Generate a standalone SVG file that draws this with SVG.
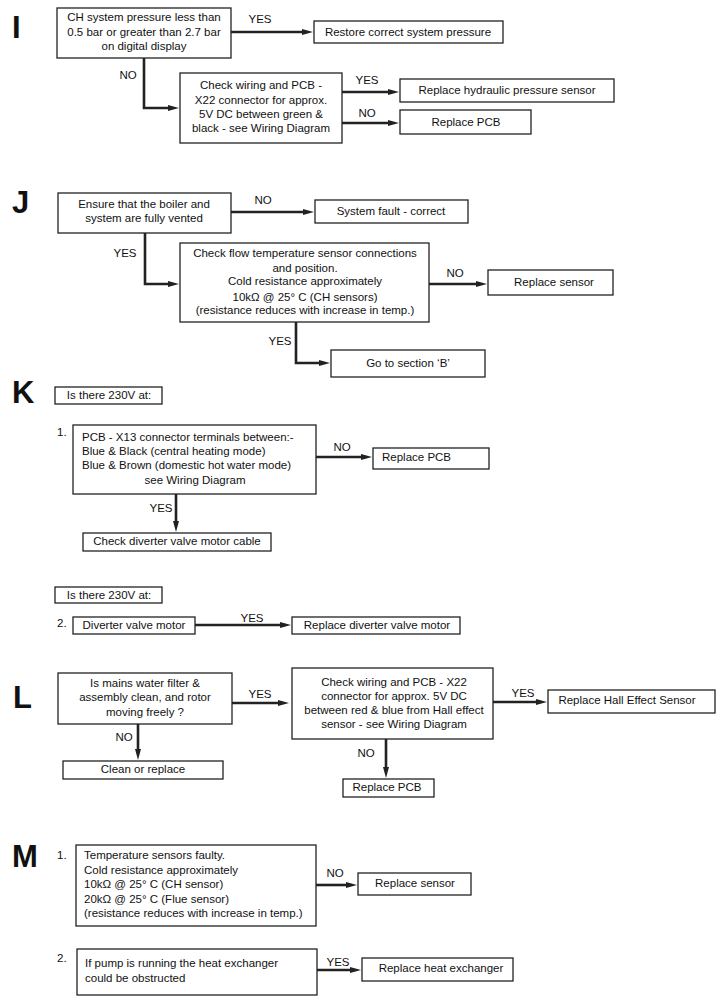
<svg xmlns="http://www.w3.org/2000/svg" width="722" height="1004" viewBox="0 0 722 1004">
<style>
text{font-family:"Liberation Sans",Arial,Helvetica,sans-serif;font-size:11.5px;fill:#111}
.c{text-anchor:middle}
.big{font-size:31px;font-weight:bold;fill:#111}
.box{fill:#fff;stroke:#222;stroke-width:1.3}
.con{fill:none;stroke:#222;stroke-width:2.6;marker-end:url(#ah)}
</style>
<defs>
<marker id="ah" markerUnits="userSpaceOnUse" markerWidth="11" markerHeight="6" viewBox="0 0 11 6" refX="1" refY="3" orient="auto">
<path d="M0,0 L11,3 L0,6 z" fill="#222"/>
</marker>
</defs>
<rect width="722" height="1004" fill="#fff"/>

<g id="letters">
<text class="big" x="12" y="38">I</text>
<text class="big" x="12" y="213">J</text>
<text class="big" x="12" y="403">K</text>
<text class="big" x="13" y="708">L</text>
<text class="big" x="12" y="867">M</text>
<text x="57" y="436">1.</text>
<text x="57" y="627">2.</text>
<text x="57" y="859">1.</text>
<text x="57" y="962">2.</text>
</g>

<g id="connectors">
<path class="con" d="M231,32 H303"/>
<path class="con" d="M144,58 V108 H169"/>
<path class="con" d="M342,92 H389"/>
<path class="con" d="M342,123 H389"/>
<path class="con" d="M231,212 H304"/>
<path class="con" d="M145,233 V284 H169"/>
<path class="con" d="M429,284 H477"/>
<path class="con" d="M296,322 V363 H320"/>
<path class="con" d="M316,457 H362"/>
<path class="con" d="M176,494 V522"/>
<path class="con" d="M195,625 H281"/>
<path class="con" d="M232,703 H279"/>
<path class="con" d="M138,724 V750"/>
<path class="con" d="M493,702 H537"/>
<path class="con" d="M386,739 V768"/>
<path class="con" d="M316,885 H347"/>
<path class="con" d="M317,970 H351"/>
<g id="labels">
<text class="c" x="260" y="23">YES</text>
<text class="c" x="128" y="79">NO</text>
<text class="c" x="367" y="84">YES</text>
<text class="c" x="367" y="117">NO</text>
<text class="c" x="263" y="204">NO</text>
<text class="c" x="125" y="257">YES</text>
<text class="c" x="455" y="277">NO</text>
<text class="c" x="280" y="345">YES</text>
<text class="c" x="342" y="451">NO</text>
<text class="c" x="161" y="512">YES</text>
<text class="c" x="252" y="622">YES</text>
<text class="c" x="260" y="698">YES</text>
<text class="c" x="124" y="741">NO</text>
<text class="c" x="523" y="697">YES</text>
<text class="c" x="366" y="757">NO</text>
<text class="c" x="335" y="877">NO</text>
<text class="c" x="338" y="966">YES</text>
</g>
</g>

<g id="i1"><rect class="box" x="57" y="8" width="174" height="50"/>
<text class="c" x="144" y="21">CH system pressure less than</text>
<text class="c" x="144" y="36">0.5 bar or greater than 2.7 bar</text>
<text class="c" x="144" y="50">on digital display</text></g>
<g id="i2"><rect class="box" x="314" y="21" width="189" height="22"/>
<text class="c" x="408" y="36">Restore correct system pressure</text></g>
<g id="i3"><rect class="box" x="180" y="73" width="162" height="70"/>
<text class="c" x="261" y="89">Check wiring and PCB -</text>
<text class="c" x="261" y="104">X22 connector for approx.</text>
<text class="c" x="261" y="118">5V DC between green &amp;</text>
<text class="c" x="261" y="132">black - see Wiring Diagram</text></g>
<g id="i4"><rect class="box" x="400" y="79" width="214" height="23"/>
<text class="c" x="507" y="94">Replace hydraulic pressure sensor</text></g>
<g id="i5"><rect class="box" x="400" y="110" width="131" height="24"/>
<text class="c" x="466" y="126">Replace PCB</text></g>

<g id="j1"><rect class="box" x="58" y="193" width="173" height="40"/>
<text class="c" x="144" y="208">Ensure that the boiler and</text>
<text class="c" x="144" y="222">system are fully vented</text></g>
<g id="j2"><rect class="box" x="315" y="200" width="153" height="23"/>
<text class="c" x="391" y="215">System fault - correct</text></g>
<g id="j3"><rect class="box" x="180" y="243" width="249" height="79"/>
<text class="c" x="305" y="257">Check flow temperature sensor connections</text>
<text class="c" x="305" y="272">and position.</text>
<text class="c" x="305" y="285">Cold resistance approximately</text>
<text class="c" x="305" y="301">10kΩ @ 25° C (CH sensors)</text>
<text class="c" x="305" y="314">(resistance reduces with increase in temp.)</text></g>
<g id="j4"><rect class="box" x="488" y="270" width="125" height="25"/>
<text class="c" x="554" y="286">Replace sensor</text></g>
<g id="j5"><rect class="box" x="331" y="350" width="154" height="27"/>
<text class="c" x="408" y="367">Go to section ‘B’</text></g>

<g id="k0"><rect class="box" x="55" y="387" width="107" height="17"/>
<text class="c" x="109" y="399">Is there 230V at:</text></g>
<g id="k1"><rect class="box" x="73" y="425" width="243" height="69"/>
<text x="82" y="441">PCB - X13 connector terminals between:-</text>
<text x="82" y="455">Blue &amp; Black (central heating mode)</text>
<text x="82" y="469">Blue &amp; Brown (domestic hot water mode)</text>
<text class="c" x="195" y="484">see Wiring Diagram</text></g>
<g id="k2"><rect class="box" x="373" y="448" width="116" height="21"/>
<text x="382" y="461">Replace PCB</text></g>
<g id="k3"><rect class="box" x="83" y="533" width="188" height="18"/>
<text class="c" x="177" y="545">Check diverter valve motor cable</text></g>
<g id="k4"><rect class="box" x="55" y="587" width="107" height="16"/>
<text class="c" x="109" y="599">Is there 230V at:</text></g>
<g id="k5"><rect class="box" x="73" y="617" width="122" height="17"/>
<text class="c" x="134" y="629">Diverter valve motor</text></g>
<g id="k6"><rect class="box" x="292" y="617" width="168" height="17"/>
<text class="c" x="377" y="629">Replace diverter valve motor</text></g>

<g id="l1"><rect class="box" x="58" y="673" width="174" height="51"/>
<text class="c" x="145" y="687">Is mains water filter &amp;</text>
<text class="c" x="145" y="701">assembly clean, and rotor</text>
<text class="c" x="145" y="716">moving freely ?</text></g>
<g id="l2"><rect class="box" x="63" y="761" width="160" height="18"/>
<text class="c" x="143" y="773">Clean or replace</text></g>
<g id="l3"><rect class="box" x="292" y="668" width="201" height="71"/>
<text class="c" x="394" y="686">Check wiring and PCB - X22</text>
<text class="c" x="394" y="700">connector for approx. 5V DC</text>
<text class="c" x="394" y="714">between red &amp; blue from Hall effect</text>
<text class="c" x="394" y="728">sensor - see Wiring Diagram</text></g>
<g id="l4"><rect class="box" x="548" y="690" width="167" height="23"/>
<text class="c" x="627" y="704">Replace Hall Effect Sensor</text></g>
<g id="l5"><rect class="box" x="343" y="779" width="91" height="18"/>
<text class="c" x="387" y="791">Replace PCB</text></g>

<g id="m1"><rect class="box" x="76" y="845" width="240" height="81"/>
<text x="84" y="859">Temperature sensors faulty.</text>
<text x="84" y="874">Cold resistance approximately</text>
<text x="84" y="888">10kΩ @ 25° C (CH sensor)</text>
<text x="84" y="903">20kΩ @ 25° C (Flue sensor)</text>
<text x="84" y="917">(resistance reduces with increase in temp.)</text></g>
<g id="m2"><rect class="box" x="358" y="873" width="113" height="22"/>
<text class="c" x="415" y="887">Replace sensor</text></g>
<g id="m3"><rect class="box" x="77" y="949" width="240" height="46"/>
<text x="85" y="967">If pump is running the heat exchanger</text>
<text x="85" y="982">could be obstructed</text></g>
<g id="m4"><rect class="box" x="362" y="958" width="151" height="23"/>
<text class="c" x="441" y="972">Replace heat exchanger</text></g>
</svg>
